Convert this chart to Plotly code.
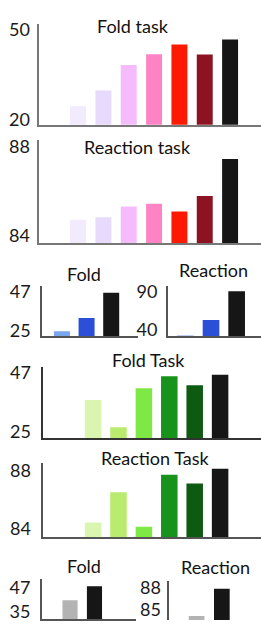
import plotly.graph_objects as go

W, H = 261, 625

# ---------------- data ----------------
pink_colors = ["#f2eafd", "#e8dafd", "#f4bcfc", "#fd83c4", "#fe1a00", "#8c1321", "#161616"]
fold_task_pink = [26.2, 31.5, 40.0, 43.6, 46.8, 43.5, 48.5]
reaction_task_pink = [85.06, 85.18, 85.66, 85.78, 85.43, 86.13, 87.79]

blue_colors = ["#7aa6ec", "#2b4fd6", "#161616"]
blue_fold = [27.7, 35.1, 49.2]
blue_reaction = [40.9, 60.7, 98.1]

green_colors = ["#daf5b0", "#b8eb6e", "#7ee845", "#17921b", "#0e5a10", "#161616"]
green_fold = [39.3, 29.1, 43.7, 48.1, 44.8, 48.7]
green_reaction = [85.0, 87.07, 84.72, 88.27, 87.67, 88.68]

gray_colors = ["#b3b3b3", "#161616"]
gray_fold = [44.5, 51.6]
gray_reaction = [85.54, 89.27]

titles = ["Fold task", "Reaction task", "Fold", "Reaction", "Fold Task", "Reaction Task", "Fold", "Reaction"]
tick_pairs = [[20, 50], [84, 88], [25, 47], [40, 90], [25, 47], [84, 88], [35, 47], [85, 88]]

# ---------------- layout specs (pixels) ----------------
panels = [
    dict(vals=fold_task_pink, cols=pink_colors, x0=39.3, x1=261, yb=121, yt=18.3, yr=[20, 53.67], xr=[-1.53, 7.22], bw=0.63, shift=5, so=4, xline=True, axc="#777777"),
    dict(vals=reaction_task_pink, cols=pink_colors, x0=39.3, x1=261, yb=241.7, yt=136.7, yr=[84, 88.63], xr=[-1.53, 7.22], bw=0.63, shift=8, so=4, xline=True, axc="#777777"),
    dict(vals=blue_fold, cols=blue_colors, x0=42, x1=138.3, yb=336, yt=285, yr=[25, 53.0], xr=[-0.81, 3.1], bw=0.65, shift=5, so=6, xline=True, axc="#555555"),
    dict(vals=blue_reaction, cols=blue_colors, x0=167.7, x1=261, yb=336, yt=285, yr=[40, 104.9], xr=[-0.69, 2.95], bw=0.65, shift=6, so=5, xline=True, axc="#555555"),
    dict(vals=green_fold, cols=green_colors, x0=43.3, x1=261, yb=440, yt=367, yr=[25, 51.77], xr=[-1.96, 6.61], bw=0.65, shift=7, so=7, xline=True, axc="#333333"),
    dict(vals=green_reaction, cols=green_colors, x0=43.3, x1=261, yb=540.7, yt=465, yr=[84, 89.08], xr=[-1.96, 6.61], bw=0.65, shift=8, so=7, xline=True, axc="#555555"),
    dict(vals=gray_fold, cols=gray_colors, x0=41.7, x1=136, yb=624.3, yt=583.3, yr=[35, 55.2], xr=[-1.16, 2.7], bw=0.62, shift=8, so=6, xline=True, axc="#555555"),
    dict(vals=gray_reaction, cols=gray_colors, x0=169.3, x1=261, yb=625, yt=585, yr=[85, 90.38], xr=[-1.08, 2.55], bw=0.62, shift=10, so=3, xline=False, axc="#555555"),
]

title_pos = [(133, 20), (137, 144), (84, 273), (213, 269), (148, 360.5), (154.7, 460.5), (84, 570.5), (215.5, 571.5)]

FONT = "Lato, 'Open Sans', sans-serif"

fig = go.Figure()
for i, p in enumerate(panels):
    n = i + 1
    xa = "x" if n == 1 else f"x{n}"
    ya = "y" if n == 1 else f"y{n}"
    fig.add_trace(go.Bar(
        x=list(range(len(p["vals"]))), y=p["vals"],
        marker=dict(color=p["cols"], line=dict(width=0)),
        width=p["bw"], xaxis=xa, yaxis=ya, showlegend=False, hoverinfo="skip",
    ))
    xkey = "xaxis" if n == 1 else f"xaxis{n}"
    ykey = "yaxis" if n == 1 else f"yaxis{n}"
    fig.update_layout(**{
        xkey: dict(domain=[p["x0"] / W, min(p["x1"] / W, 1)], range=p["xr"], anchor=ya,
                   showline=p["xline"], linecolor=p["axc"], linewidth=1.5, showgrid=False,
                   zeroline=False, showticklabels=False, ticks="", fixedrange=True),
        ykey: dict(domain=[1 - p["yb"] / H, 1 - p["yt"] / H], range=p["yr"], anchor=xa,
                   showline=True, linecolor=p["axc"], linewidth=1.5, showgrid=False,
                   zeroline=False, ticks="", tickvals=tick_pairs[i],
                   ticktext=[str(v) for v in tick_pairs[i]],
                   tickfont=dict(family=FONT, size=18, color="#1a1a1a"),
                   ticklabelshift=-int(p["shift"]), ticklabelstandoff=int(p["so"]), fixedrange=True),
    })

for (tx, ty), t in zip(title_pos, titles):
    fig.add_annotation(x=tx / W, y=1 - ty / H, xref="paper", yref="paper", text=t,
                       showarrow=False, xanchor="center", yanchor="middle",
                       font=dict(family=FONT, size=18, color="#111111"))

fig.update_layout(width=W, height=H, margin=dict(l=0, r=0, t=0, b=0),
                  paper_bgcolor="white", plot_bgcolor="white", bargap=0.3)

fig.write_html("out.html", config={"displayModeBar": False},
               post_script="document.body.style.margin='0';document.body.style.overflow='hidden';")
